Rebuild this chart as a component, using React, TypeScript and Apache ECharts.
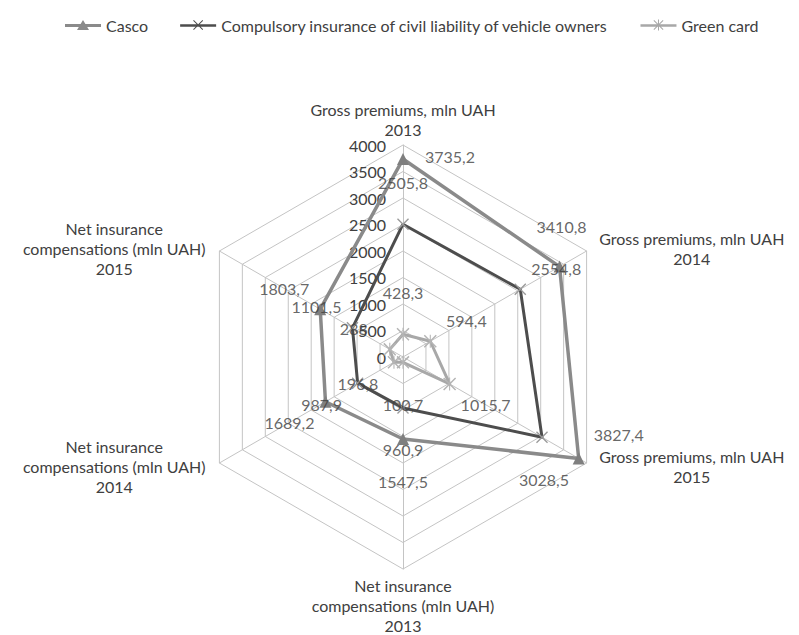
import React, { useEffect, useRef } from 'react';
import * as echarts from 'echarts';

// ---------- data ----------
const axisNames = [
  'Gross premiums, mln UAH\n2013',
  'Gross premiums, mln UAH\n2014',
  'Gross premiums, mln UAH\n2015',
  'Net insurance\ncompensations (mln UAH)\n2013',
  'Net insurance\ncompensations (mln UAH)\n2014',
  'Net insurance\ncompensations (mln UAH)\n2015',
];
const seriesNames = ['Casco', 'Compulsory insurance of civil liability of vehicle owners', 'Green card'];
const cascoValues = [3735.2, 3410.8, 3827.4, 1547.5, 1689.2, 1803.7];
const compulsoryValues = [2505.8, 2554.8, 3028.5, 960.9, 987.9, 1101.5];
const greenCardValues = [428.3, 594.4, 1015.7, 100.7, 196.8, 288];
const axisMin = 0;
const axisMax = 4000;
const axisSplits = 8;

// ---------- styles ----------
const CX = 403;
const CY = 357;
const R = 212;
const FONT = 'Lato';
const TEXT = '#404040';
const GRID = '#c4c4c4';
const lineColors = ['#8a8a8a', '#4d4d4d', '#a8a8a8'];
const markerColors = ['#7f7f7f', '#9a9a9a', '#b4b4b4'];
const lineWidths = [3.5, 3, 3];
const X_PATH = 'path://M0,0.8L0.8,0L10,9.2L9.2,10Z M9.2,0L10,0.8L0.8,10L0,9.2Z';
const STAR_PATH = 'path://M0,0.8L0.8,0L10,9.2L9.2,10Z M9.2,0L10,0.8L0.8,10L0,9.2Z M4.6,0H5.4V10H4.6Z';
const symbols = ['triangle', X_PATH, STAR_PATH];
const symbolSizes = [12, 12, 13];
const legendIcons = [
  'path://M0,5H36V8H0Z M12,11L18,1L24,11Z',
  'path://M0,5.2H36V7.8H0Z M13,1.7L13.7,1L23,10.3L22.3,11Z M22.3,1L23,1.7L13.7,11L13,10.3Z',
  'path://M0,5.2H36V7.8H0Z M13,1.7L13.7,1L23,10.3L22.3,11Z M22.3,1L23,1.7L13.7,11L13,10.3Z M17.5,0.5H18.5V11.5H17.5Z',
];
const LABEL_DIST = 42;
// label nudges that differ from the default radial placement: key "series-axis"
const labelNudges: Record<string, [number, number]> = {
  '0-0': [47, -3],
  '0-1': [2, -40],
  '0-2': [40, -24],
  '1-2': [2, 42],
};

const fmt = (v: number) => String(v).replace('.', ',');

export default function App() {
  const ref = useRef<HTMLDivElement>(null);
  useEffect(() => {
    document.body.style.margin = '0';
    if (!ref.current) return;
    const chart = echarts.init(ref.current, undefined, { renderer: 'svg' });
    const allValues = [cascoValues, compulsoryValues, greenCardValues];
    const n = axisNames.length;
    // radar places indicators counter-clockwise; reference goes clockwise
    const order = Array.from({ length: n }, (_, k) => (k === 0 ? 0 : n - k));

    const indicator = order.map((i, k) => {
      const ind: any = { name: axisNames[i], min: axisMin, max: axisMax };
      if (k !== 0) ind.axisLabel = { show: false };
      return ind;
    });

    const radarSeries = allValues.map((vals, s) => ({
      type: 'radar',
      name: seriesNames[s],
      radarIndex: 0,
      symbol: symbols[s],
      symbolSize: symbolSizes[s],
      itemStyle: { color: markerColors[s] },
      lineStyle: { color: lineColors[s], width: lineWidths[s] },
      z: 3 - s,
      data: [{ name: seriesNames[s], value: order.map((i) => vals[i]) }],
    }));

    const nudge = (s: number, i: number): [number, number] => {
      const key = `${s}-${i}`;
      if (labelNudges[key]) return labelNudges[key];
      const ang = ((90 - (360 / n) * i) * Math.PI) / 180;
      return [Math.round(LABEL_DIST * Math.cos(ang)), Math.round(-LABEL_DIST * Math.sin(ang))];
    };

    const labelSeries = allValues.map((vals, s) => ({
      type: 'scatter',
      name: `labels-${s}`,
      coordinateSystem: 'polar',
      polarIndex: 0,
      symbol: 'circle',
      symbolSize: 1,
      silent: true,
      z: 10,
      itemStyle: { color: 'rgba(0,0,0,0)' },
      label: {
        show: true,
        position: 'inside',
        fontFamily: FONT,
        fontSize: 16,
        color: TEXT,
        formatter: (p: any) => fmt(p.value[0]),
      },
      data: vals.map((v, i) => ({ value: [v, i], label: { offset: nudge(s, i) } })),
    }));

    chart.setOption({
      animation: false,
      textStyle: { fontFamily: FONT, color: TEXT },
      legend: {
        top: 12,
        left: 60,
        itemWidth: 36,
        itemHeight: 12,
        itemGap: 32,
        textStyle: { fontFamily: FONT, fontSize: 16, color: TEXT },
        data: seriesNames.map((nm, k) => ({
          name: nm,
          icon: legendIcons[k],
          itemStyle: { color: lineColors[k] },
        })),
      },
      radar: {
        center: [CX, CY],
        radius: R,
        startAngle: 90,
        shape: 'polygon',
        splitNumber: axisSplits,
        nameGap: 6,
        indicator,
        axisName: {
          color: TEXT,
          fontFamily: FONT,
          fontSize: 16,
          formatter: (name: string) =>
            name
              .split('\n')
              .map((l) => `{n|${l}}`)
              .join('\n'),
          rich: {
            n: { width: 200, align: 'center', fontSize: 16, lineHeight: 20, color: TEXT, fontFamily: FONT },
          },
        },
        axisLine: { show: true, lineStyle: { color: GRID, width: 1 } },
        splitLine: { show: true, lineStyle: { color: GRID, width: 1 } },
        splitArea: { show: false },
        axisTick: { show: false },
        axisLabel: {
          show: true,
          fontFamily: FONT,
          fontSize: 16,
          color: TEXT,
          margin: 17,
          formatter: (v: number) => String(v),
        },
      },
      polar: { center: [CX, CY], radius: R },
      angleAxis: {
        type: 'category',
        data: axisNames,
        startAngle: 90,
        clockwise: true,
        boundaryGap: false,
        show: false,
      },
      radiusAxis: { type: 'value', min: axisMin, max: axisMax, show: false },
      series: [...radarSeries, ...labelSeries],
    });
    return () => chart.dispose();
  }, []);
  return <div ref={ref} style={{ width: 799, height: 635 }} />;
}
